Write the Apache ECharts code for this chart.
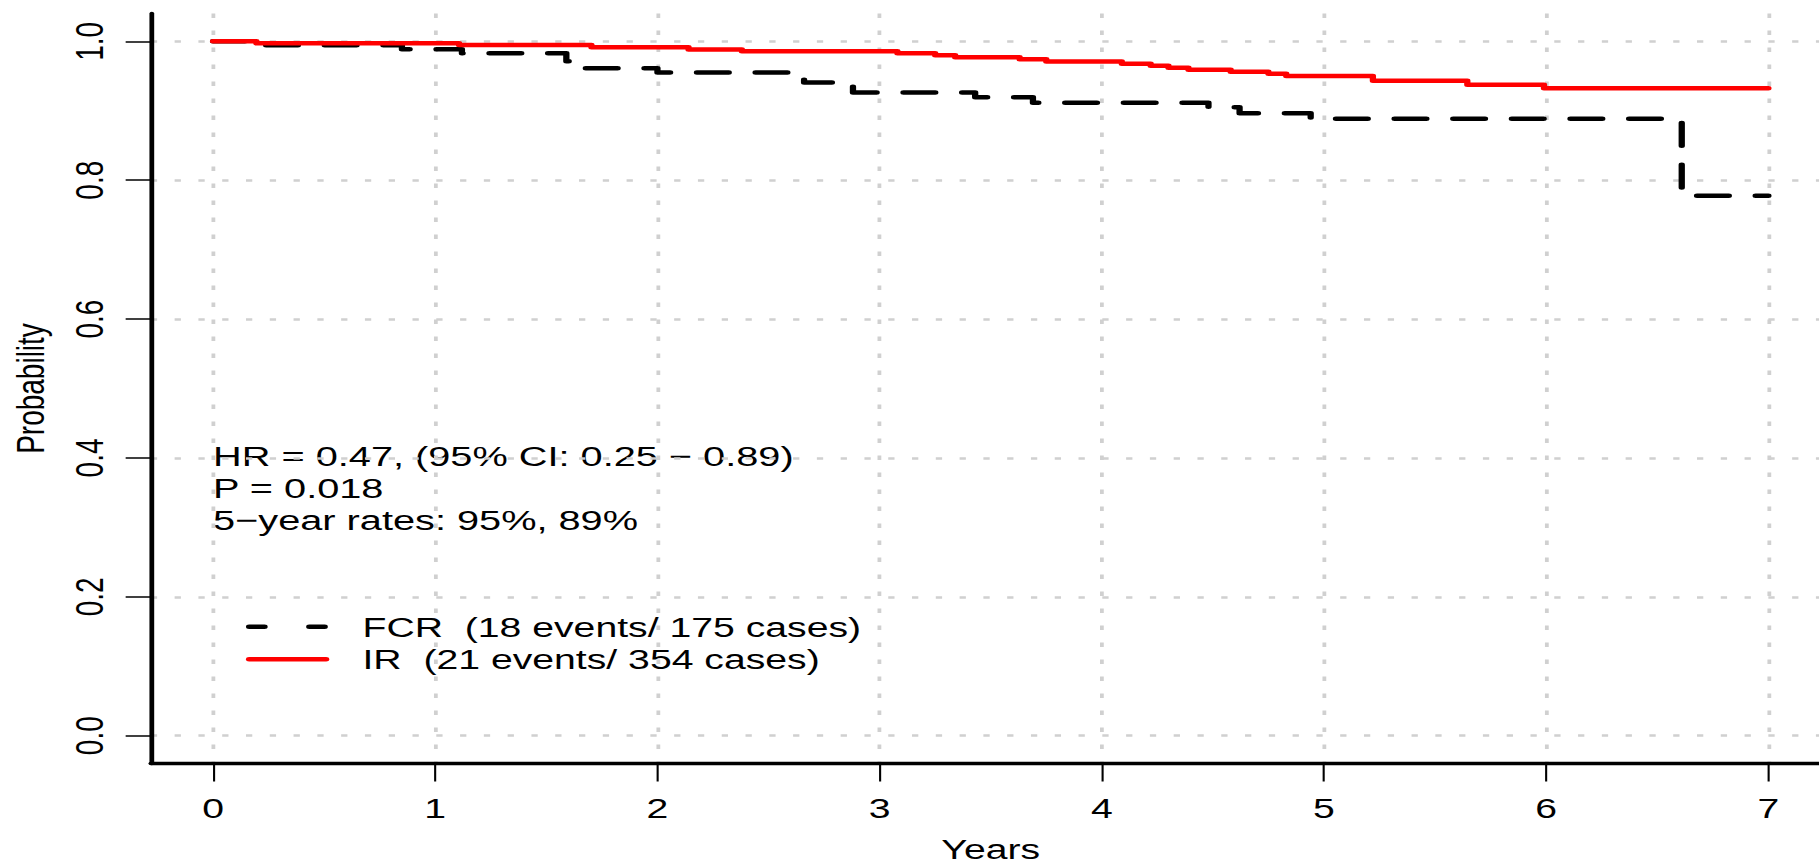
<!DOCTYPE html>
<html>
<head>
<meta charset="utf-8">
<title>Kaplan-Meier: FCR vs IR</title>
<script src="https://cdn.jsdelivr.net/npm/echarts@6/dist/echarts.min.js"></script>
<style>
  html, body { margin: 0; padding: 0; overflow: hidden; background: #fff; }
  /* the plot is drawn on a narrower canvas and widened horizontally */
  #chart { width: 1300px; height: 866px; transform: scaleX(1.39923); transform-origin: 0 0; }
</style>
</head>
<body>
<div id="chart"></div>
<script>
// Kaplan-Meier step curves: event times (years) and survival probability after each event
const fcrTimes = [0, 0.20, 0.85, 1.12, 1.59, 1.61, 2.00, 2.66, 2.88, 3.43, 3.69, 4.48, 4.62, 4.94, 6.61, 7.00];
const fcrSurv  = [1.0, 0.9943, 0.9886, 0.9828, 0.9713, 0.9613, 0.9550, 0.9405, 0.9262, 0.9193, 0.9116, 0.9050, 0.8963, 0.8886, 0.7775, 0.7775];

const irTimes = [0, 0.195, 1.107, 1.703, 2.14, 2.38, 3.08, 3.25, 3.34, 3.63, 3.75, 4.09, 4.22, 4.30, 4.39, 4.58, 4.75, 4.83, 5.22, 5.645, 5.99, 7.00];
const irSurv  = [1.0, 0.9971, 0.9945, 0.9915, 0.9880, 0.9855, 0.9828, 0.9800, 0.9770, 0.9741, 0.9708, 0.9678, 0.9649, 0.9620, 0.9591, 0.9562, 0.9533, 0.9500, 0.9433, 0.9375, 0.9323, 0.9323];

const xTicks = [0, 1, 2, 3, 4, 5, 6, 7];
const yTicks = [0, 0.2, 0.4, 0.6, 0.8, 1.0];

const seriesNames = ['FCR  (18 events/ 175 cases)', 'IR  (21 events/ 354 cases)'];
const statLines = [
  'HR = 0.47, (95% CI: 0.25 \u2212 0.89)',
  'P = 0.018',
  '5\u2212year rates: 95%, 89%'
];

// ---- layout ----
const FONT = 'Liberation Sans, Arial, Helvetica, sans-serif';
const FS = 28;
const GRID = { left: 107.8, right: -8.3, top: 13.5, bottom: 102.5 };
const X_RANGE = [-0.28, 7.28];
const Y_RANGE = [-0.04, 1.04];
const PLOT_W = 1300 - GRID.left - GRID.right;
const xPix = t => GRID.left + (t - X_RANGE[0]) / (X_RANGE[1] - X_RANGE[0]) * PLOT_W;

const pairs = (ts, ss) => ts.map((t, i) => [t, ss[i]]);

const gridLine = { show: true, lineStyle: { color: '#d0d0d0', width: 2.7, type: [4.5, 12.5] } };
const axisLineStyle = { show: true, onZero: false, lineStyle: { color: '#000', width: 3.4 } };
const tickStyle = { show: true, inside: false, length: 18, lineStyle: { color: '#000', width: 1.5 } };

const chart = echarts.init(document.getElementById('chart'), null, { renderer: 'svg' });

chart.setOption({
  animation: false,
  backgroundColor: '#fff',
  grid: Object.assign({ containLabel: false, outerBoundsMode: 'none' }, GRID),
  xAxis: {
    type: 'value',
    min: X_RANGE[0],
    max: X_RANGE[1],
    name: 'Years',
    nameLocation: 'middle',
    nameGap: 72,
    nameTextStyle: { fontFamily: FONT, fontSize: FS, color: '#000' },
    axisLine: axisLineStyle,
    axisTick: Object.assign({ customValues: xTicks }, tickStyle),
    axisLabel: {
      customValues: xTicks,
      margin: 31,
      fontFamily: FONT, fontSize: FS, color: '#000',
      formatter: v => String(v)
    },
    splitLine: gridLine
  },
  yAxis: {
    type: 'value',
    min: Y_RANGE[0],
    max: Y_RANGE[1],
    name: 'Probability',
    nameLocation: 'middle',
    nameGap: 72,
    nameTextStyle: { fontFamily: FONT, fontSize: FS, color: '#000' },
    axisLine: axisLineStyle,
    axisTick: Object.assign({ customValues: yTicks }, tickStyle),
    axisLabel: {
      customValues: yTicks,
      rotate: 90,
      margin: 30,
      fontFamily: FONT, fontSize: FS, color: '#000',
      formatter: v => v.toFixed(1)
    },
    splitLine: gridLine
  },
  legend: {
    orient: 'vertical',
    left: 175.8,
    top: 612.7,
    padding: 0,
    itemWidth: 55,
    itemHeight: 14,
    itemGap: 4.6,
    textStyle: { fontFamily: FONT, fontSize: FS, color: '#000', lineHeight: 28, padding: [0, 0, 0, 21] },
    itemStyle: { opacity: 0, borderWidth: 0 },
    lineStyle: { width: 4.5, cap: 'round' },
    data: [
      { name: seriesNames[0], lineStyle: { type: [11, 32], width: 4.5, cap: 'round' } },
      { name: seriesNames[1], lineStyle: { width: 4.5, cap: 'round' } }
    ]
  },
  graphic: statLines.map((txt, i) => ({
    type: 'text',
    x: xPix(0),
    y: [456.3, 487.8, 520.3][i],
    silent: true,
    style: {
      text: txt,
      font: '28.4px ' + FONT,
      fill: '#000',
      align: 'left',
      verticalAlign: 'middle'
    }
  })),
  series: [
    {
      name: seriesNames[0],
      type: 'line',
      step: 'end',
      symbol: 'none',
      data: pairs(fcrTimes, fcrSurv),
      lineStyle: { color: '#000', width: 4.5, type: [22.7, 19.2], cap: 'round', join: 'round' },
      itemStyle: { color: '#000' },
      z: 3
    },
    {
      name: seriesNames[1],
      type: 'line',
      step: 'end',
      symbol: 'none',
      data: pairs(irTimes, irSurv),
      lineStyle: { color: '#ff0000', width: 4.5, type: 'solid', cap: 'round', join: 'round' },
      itemStyle: { color: '#ff0000' },
      z: 4
    }
  ]
});
</script>
</body>
</html>
